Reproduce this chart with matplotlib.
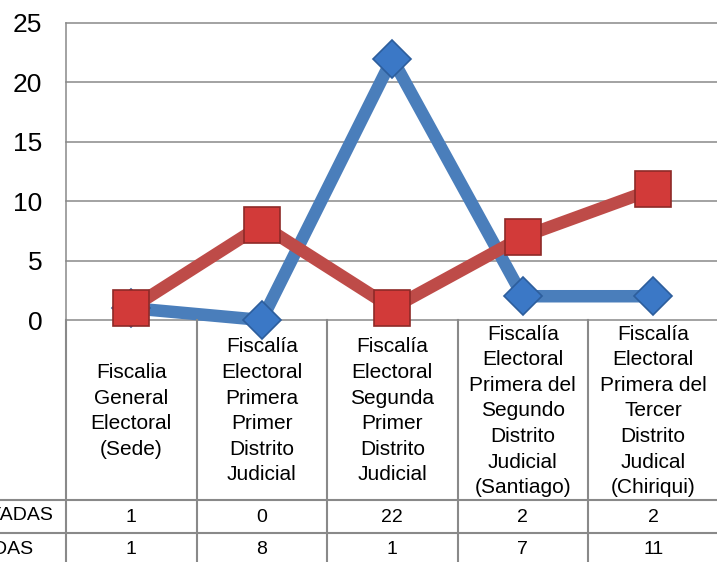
import matplotlib.pyplot as plt

plt.rcParams["font.family"] = ["Liberation Sans", "DejaVu Sans"]

categories = [
    "Fiscalia\nGeneral\nElectoral\n(Sede)",
    "Fiscalía\nElectoral\nPrimera\nPrimer\nDistrito\nJudicial",
    "Fiscalía\nElectoral\nSegunda\nPrimer\nDistrito\nJudicial",
    "Fiscalía\nElectoral\nPrimera del\nSegundo\nDistrito\nJudicial\n(Santiago)",
    "Fiscalía\nElectoral\nPrimera del\nTercer\nDistrito\nJudical\n(Chiriqui)",
]
series_names = ["DENUNCIAS PRESENTADAS", "DENUNCIAS ATENDIDAS"]
presentadas = [1, 0, 22, 2, 2]
atendidas = [1, 8, 1, 7, 11]
yticks = [0, 5, 10, 15, 20, 25]

W, H = 717, 562
BLUE = "#4A7EBB"
RED = "#BE4B48"
GRID = "#898989"


def fx(px):
    return px / W


def fy(py):
    return 1 - py / H


fig = plt.figure(figsize=(W / 100, H / 100), dpi=100)

# chart area
x0, x1 = 66, 66 + 5 * 130.5
ax = fig.add_axes([fx(x0), fy(320), fx(x1) - fx(x0), fy(23) - fy(320)])
ax.set_xlim(-0.5, 4.5)
ax.set_ylim(0, 25)
ax.set_yticks(yticks)
ax.set_xticks([])
ax.tick_params(axis="y", length=0, pad=17, labelsize=19)
for s in ["top", "right", "bottom"]:
    ax.spines[s].set_visible(False)
ax.spines["left"].set_color(GRID)
ax.spines["left"].set_linewidth(1.1)
ax.grid(axis="y", color=GRID, linewidth=1.1)
for gl in ax.get_ygridlines():
    gl.set_clip_on(False)
ax.set_axisbelow(True)

xs = range(len(categories))
ax.plot(xs, presentadas, color=BLUE, lw=9, solid_joinstyle="miter", zorder=3, clip_on=False)
ax.plot(xs, presentadas, ls="none", marker="D", ms=19, mfc="#3B78C6", mec="#2D5E9C", mew=1.2,
        zorder=4, clip_on=False)
ax.plot(xs, atendidas, color=RED, lw=9, solid_joinstyle="miter", zorder=5, clip_on=False)
ax.plot(xs, atendidas, ls="none", marker="s", ms=26, mfc="#D23A39", mec="#8E2A28", mew=1.2,
        zorder=6, clip_on=False)

# data table
tax = fig.add_axes([fx(x0), fy(565), fx(x1) - fx(x0), fy(320) - fy(565)])
tax.set_xlim(-0.5, 4.5)
tax.set_ylim(245, 0)
tax.axis("off")

for b in [-0.5, 0.5, 1.5, 2.5, 3.5, 4.5]:
    tax.plot([b, b], [0, 245], color=GRID, lw=1.5, clip_on=False)
for yy in [180, 213]:
    tax.plot([-1.5, 4.5], [yy, yy], color=GRID, lw=1.5, clip_on=False)

for i, lab in enumerate(categories):
    tax.text(i, 91, lab, ha="center", va="center", fontsize=15, linespacing=1.44)
for i in xs:
    tax.text(i, 197, str(presentadas[i]), ha="center", va="center", fontsize=14)
    tax.text(i, 230, str(atendidas[i]), ha="center", va="center", fontsize=14)

fig.text(fx(53), fy(516), series_names[0], ha="right", va="center", fontsize=14)
fig.text(fx(33), fy(550), series_names[1], ha="right", va="center", fontsize=14)

fig.savefig("out.png", dpi=100)
